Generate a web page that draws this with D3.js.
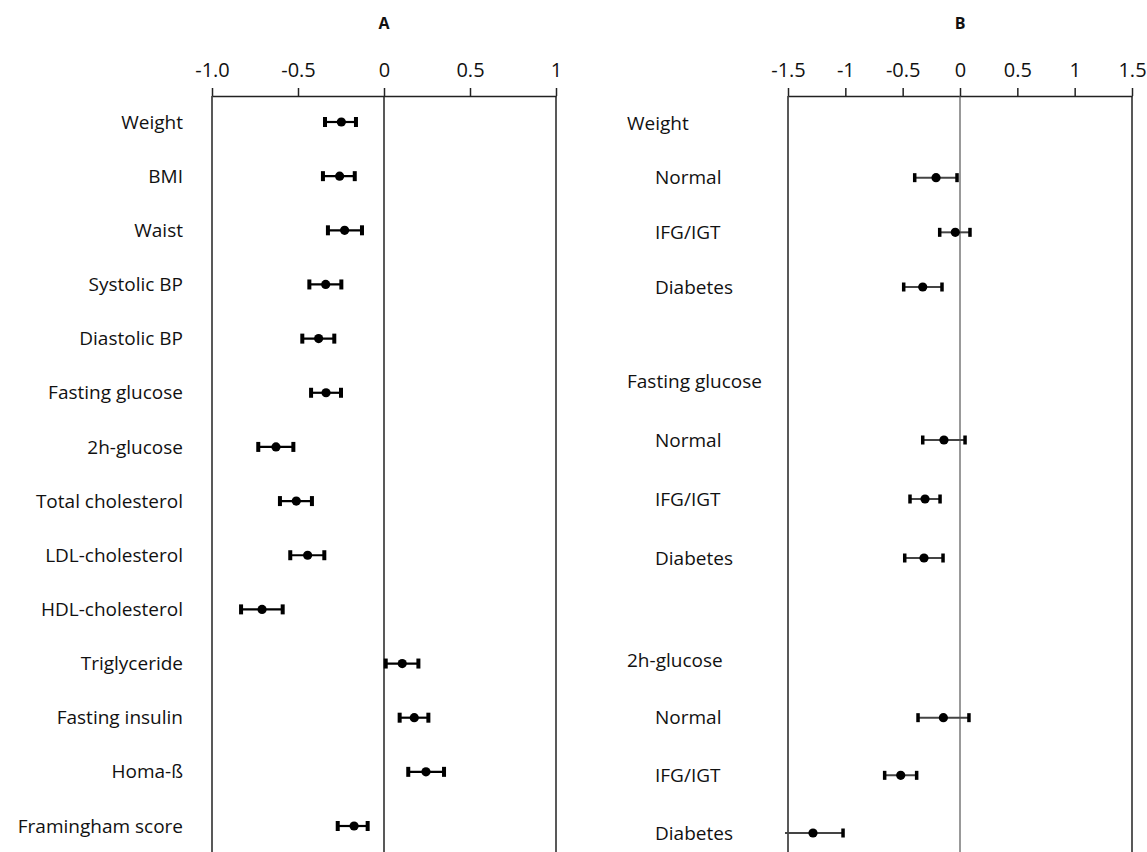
<!DOCTYPE html>
<html>
<head>
<meta charset="utf-8">
<script src="https://cdn.jsdelivr.net/npm/d3@7"></script>
<style>
  body { margin: 0; background: #fff; }
  text { font-family: "Open Sans", Lato, sans-serif; fill: #111; }
</style>
</head>
<body>
<div id="chart"></div>
<script>
// Panel A data
var labelsA = ["Weight", "BMI", "Waist", "Systolic BP", "Diastolic BP", "Fasting glucose",
  "2h-glucose", "Total cholesterol", "LDL-cholesterol", "HDL-cholesterol", "Triglyceride",
  "Fasting insulin", "Homa-ß", "Framingham score"];
var estA  = [-0.248, -0.258, -0.229, -0.339, -0.380, -0.337, -0.628, -0.510, -0.444, -0.709, 0.106, 0.176, 0.244, -0.174];
var lowA  = [-0.343, -0.355, -0.326, -0.434, -0.475, -0.424, -0.731, -0.605, -0.545, -0.831, 0.010, 0.091, 0.141, -0.269];
var highA = [-0.163, -0.170, -0.128, -0.248, -0.289, -0.250, -0.527, -0.419, -0.347, -0.589, 0.200, 0.258, 0.349, -0.095];
var ticksA = [-1, -0.5, 0, 0.5, 1];
var tickLabelsA = ["-1.0", "-0.5", "0", "0.5", "1"];

// Panel B data
var groupsB = ["Weight", "Fasting glucose", "2h-glucose"];
var subgroupsB = ["Normal", "IFG/IGT", "Diabetes"];
var estB  = [-0.209, -0.041, -0.325, -0.140, -0.305, -0.314, -0.145, -0.517, -1.282];
var lowB  = [-0.395, -0.177, -0.491, -0.325, -0.436, -0.482, -0.366, -0.657, -1.526];
var highB = [-0.026, 0.087, -0.157, 0.044, -0.174, -0.148, 0.078, -0.378, -1.020];
var ticksB = [-1.5, -1, -0.5, 0, 0.5, 1, 1.5];
var tickLabelsB = ["-1.5", "-1", "-0.5", "0", "0.5", "1", "1.5"];

var svgWidth = 1147;
var svgHeight = 852;
var axisY = 96;
var labelSize = "19px";
var tickSize = "20px";

var svg = d3.select("#chart")
  .append("svg")
  .attr("width", svgWidth)
  .attr("height", svgHeight);

// ---------- Panel A ----------
var xA = d3.scaleLinear().domain([-1, 1]).range([212, 556]);
var yA = d3.scalePoint().domain(labelsA).range([122, 826]);

var dataA = labelsA.map(function(l, i) {
  return { label: l, est: estA[i], lo: lowA[i], hi: highA[i] };
});

svg.append("text")
  .attr("x", xA(0))
  .attr("y", 29)
  .attr("text-anchor", "middle")
  .style("font-weight", "bold")
  .style("font-size", "16px")
  .text("A");

var axisA = d3.axisTop(xA)
  .tickValues(ticksA)
  .tickFormat(function(d, i) { return tickLabelsA[i]; })
  .tickSize(8)
  .tickSizeOuter(0)
  .tickPadding(11);

var gAxisA = svg.append("g")
  .attr("transform", "translate(0," + axisY + ")")
  .call(axisA);
styleAxis(gAxisA);

// vertical reference lines
svg.append("g")
  .selectAll("line")
  .data([-1, 0, 1])
  .enter()
  .append("line")
  .attr("x1", d => xA(d))
  .attr("x2", d => xA(d))
  .attr("y1", axisY)
  .attr("y2", svgHeight)
  .attr("stroke", "#222")
  .attr("stroke-width", 1.5);

svg.append("g")
  .selectAll("text")
  .data(dataA)
  .enter()
  .append("text")
  .attr("x", 183)
  .attr("y", d => yA(d.label))
  .attr("dy", "0.35em")
  .attr("text-anchor", "end")
  .style("font-size", labelSize)
  .text(d => d.label);

drawBars(svg, dataA, xA, d => yA(d.label), { line: "#000", lw: 2.2, capW: 4, capH: 10, r: 4.6 });

// ---------- Panel B ----------
var xB = d3.scaleLinear().domain([-1.5, 1.5]).range([788, 1132]);
// row index: group header = g*5, subgroup rows follow
var yB = d3.scaleLinear()
  .domain([0, 3, 5, 8, 10, 13])
  .range([123, 287, 381, 558, 660, 833]);

var dataB = [];
var rowLabelsB = [];
groupsB.forEach(function(g, gi) {
  rowLabelsB.push({ label: g, row: gi * 5, header: true });
  subgroupsB.forEach(function(s, si) {
    var k = gi * 3 + si;
    rowLabelsB.push({ label: s, row: gi * 5 + 1 + si, header: false });
    dataB.push({ label: s, row: gi * 5 + 1 + si, est: estB[k], lo: lowB[k], hi: highB[k] });
  });
});

svg.append("text")
  .attr("x", xB(0))
  .attr("y", 29)
  .attr("text-anchor", "middle")
  .style("font-weight", "bold")
  .style("font-size", "16px")
  .text("B");

var axisB = d3.axisTop(xB)
  .tickValues(ticksB)
  .tickFormat(function(d, i) { return tickLabelsB[i]; })
  .tickSize(8)
  .tickSizeOuter(0)
  .tickPadding(11);

var gAxisB = svg.append("g")
  .attr("transform", "translate(0," + axisY + ")")
  .call(axisB);
styleAxis(gAxisB);

svg.append("g")
  .selectAll("line")
  .data([-1.5, 0, 1.5])
  .enter()
  .append("line")
  .attr("x1", d => xB(d))
  .attr("x2", d => xB(d))
  .attr("y1", axisY)
  .attr("y2", svgHeight)
  .attr("stroke", d => d === 0 ? "#555" : "#222")
  .attr("stroke-width", d => d === 0 ? 1.2 : 1.5);

svg.append("g")
  .selectAll("text")
  .data(rowLabelsB)
  .enter()
  .append("text")
  .attr("x", d => d.header ? 627 : 655)
  .attr("y", d => yB(d.row))
  .attr("dy", "0.35em")
  .style("font-size", labelSize)
  .text(d => d.label);

drawBars(svg, dataB, xB, d => yB(d.row), { line: "#444", lw: 2, capW: 3.5, capH: 9, r: 4.6 });

function styleAxis(g) {
  g.select(".domain").attr("stroke", "#222").attr("stroke-width", 1.5);
  g.selectAll(".tick line").attr("stroke", "#222").attr("stroke-width", 1.5);
  g.selectAll(".tick text")
    .style("font-family", "'Open Sans', Lato, sans-serif")
    .style("font-size", tickSize)
    .attr("fill", "#111");
}

function drawBars(root, data, x, yf, o) {
  var lo = x.domain()[0];
  var g = root.append("g");
  g.selectAll(".ci")
    .data(data)
    .enter()
    .append("line")
    .attr("x1", d => x(d.lo))
    .attr("x2", d => x(d.hi))
    .attr("y1", yf)
    .attr("y2", yf)
    .attr("stroke", o.line)
    .attr("stroke-width", o.lw);
  // caps, skipped where the interval runs past the axis
  var caps = [];
  data.forEach(function(d) {
    if (d.lo >= lo) caps.push({ v: d.lo, d: d });
    caps.push({ v: d.hi, d: d });
  });
  g.selectAll(".cap")
    .data(caps)
    .enter()
    .append("rect")
    .attr("x", c => x(c.v) - o.capW / 2)
    .attr("y", c => yf(c.d) - o.capH / 2)
    .attr("width", o.capW)
    .attr("height", o.capH)
    .attr("fill", "#000");
  g.selectAll("circle")
    .data(data)
    .enter()
    .append("circle")
    .attr("cx", d => x(d.est))
    .attr("cy", yf)
    .attr("r", o.r)
    .attr("fill", "#000");
}
</script>
</body>
</html>
